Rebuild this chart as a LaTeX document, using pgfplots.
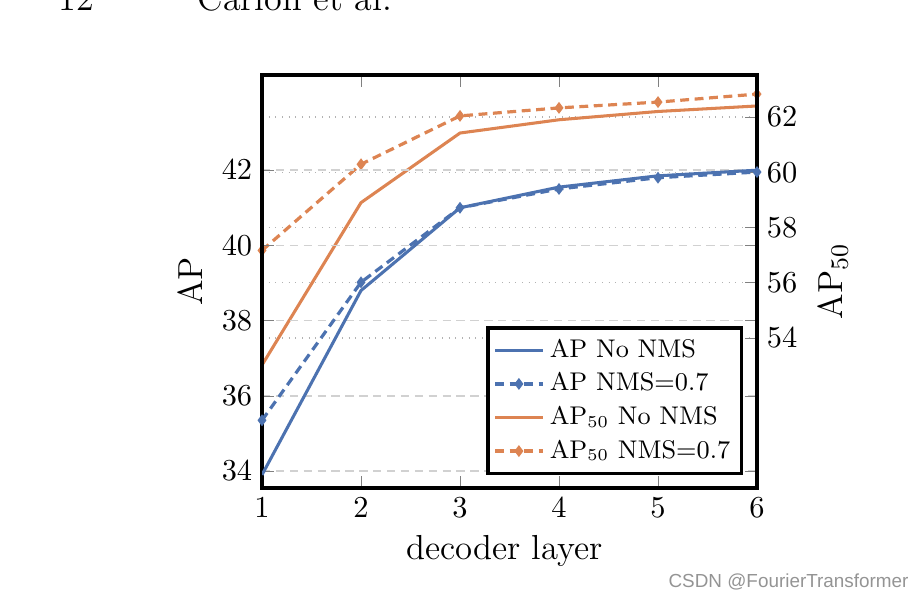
\documentclass[border=0pt]{standalone}
\usepackage{fontspec}
\usepackage{pgfplots}
\pgfplotsset{compat=1.18}
\newfontfamily\wmfont{Liberation Sans}
\definecolor{sbblue}{RGB}{76,114,176}
\definecolor{sborange}{RGB}{221,132,82}
\begin{document}
\begin{tikzpicture}[x=0.36pt,y=0.36pt]
\useasboundingbox (0,0) rectangle (920,606);
\clip (0,0) rectangle (920,606);
\node[anchor=base west,inner sep=0,font=\fontsize{13}{15}\selectfont] at (58,596) {12};
\node[anchor=base west,inner sep=0,font=\fontsize{13}{15}\selectfont] at (197,596) {Carion et al.};
\node[anchor=base west,inner sep=0,font=\wmfont\fontsize{6.8}{8}\selectfont,text=black!42] at (668,19) {CSDN @FourierTransformer};
\pgfplotsset{
 common/.style={
  at={(94.32pt,42.48pt)}, anchor=south west, scale only axis,
  width=178.2pt, height=148.68pt,
  xmin=1, xmax=6,
  tick label style={font=\fontsize{10.5}{12}\selectfont},
  label style={font=\fontsize{12.5}{14}\selectfont},
 },
 ln/.style={line width=1.1pt},
 dsh/.style={line width=1.15pt, dash pattern=on 3.2pt off 2pt, mark=diamond*, mark size=1.2pt, mark options={solid}},
}
% AP50 (right axis)
\begin{axis}[common,
  axis y line*=right, axis x line=none,
  ymin=48.57, ymax=63.52, ytick={54,56,...,62},
  ymajorgrids, major grid style={dotted, black!30, line width=0.5pt},
  y axis line style={line width=1.3pt},
  ylabel={AP$_{50}$},
  ylabel style={at={(rel axis cs:1.1535,0.5)}, anchor=center},
]
\addplot[sborange, ln] coordinates {(1,53.02)(2,58.9)(3,61.42)(4,61.9)(5,62.2)(6,62.4)};
\addplot[sborange, dsh] coordinates {(1,57.17)(2,60.29)(3,62.04)(4,62.33)(5,62.54)(6,62.83)};
\end{axis}
% AP (left axis)
\begin{axis}[common,
  ymin=33.55, ymax=44.53, ytick={34,36,...,42}, xtick={1,...,6},
  ymajorgrids, major grid style={dash pattern=on 3pt off 2pt, black!18, line width=0.5pt},
  axis line style={line width=1.3pt},
  xlabel={decoder layer}, ylabel={AP},
  xlabel style={at={(rel axis cs:0.49,-0.174)}, anchor=base},
  ylabel style={at={(rel axis cs:-0.1455,0.5)}, anchor=center},
  legend style={at={(0.972,0.031)}, anchor=south east, draw=black, line width=1.3pt,
    font=\fontsize{9.2}{10}\selectfont, cells={anchor=west}, inner sep=2pt},
]
\addplot[sbblue, ln] coordinates {(1,33.9)(2,38.8)(3,41.0)(4,41.55)(5,41.85)(6,42.0)};
\addplot[sbblue, dsh] coordinates {(1,35.35)(2,39.02)(3,41.0)(4,41.5)(5,41.8)(6,41.95)};
\addlegendimage{sborange, ln}
\addlegendimage{sborange, dsh}
\legend{AP No NMS, AP NMS=0.7, AP$_{50}$ No NMS, AP$_{50}$ NMS=0.7}
\end{axis}
\end{tikzpicture}
\end{document}
